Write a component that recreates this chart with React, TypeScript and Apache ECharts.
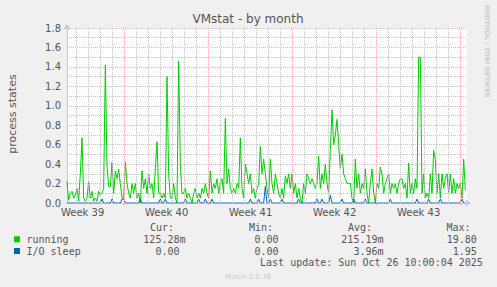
import React, { useEffect, useRef } from 'react';
import * as echarts from 'echarts';

// samples every ~3h20m (one sample = 10/3 h), 240 samples across the month graph
const RUNNING = [
  0.22, 0.03, 0.10, 0.12, 0.05, 0.08, 0.15, 0.02, 0.30, 0.67,
  0.05, 0.02, 0.05, 0.22, 0.05, 0.12, 0.02, 0.05, 0.02, 0.12,
  0.08, 0.10, 0.15, 1.42, 0.38, 0.17, 0.17, 0.42, 0.10, 0.33,
  0.25, 0.35, 0.20, 0.05, 0.05, 0.42, 0.20, 0.10, 0.05, 0.20,
  0.10, 0.20, 0.05, 0.10, 0.00, 0.33, 0.15, 0.25, 0.10, 0.30,
  0.15, 0.20, 0.05, 0.35, 0.63, 0.10, 0.10, 0.05, 0.10, 0.05,
  1.30, 0.30, 0.05, 0.05, 0.20, 0.05, 0.00, 1.46, 0.40, 0.10,
  0.10, 0.15, 0.05, 0.10, 0.05, 0.00, 0.10, 0.15, 0.05, 0.10,
  0.05, 0.15, 0.10, 0.20, 0.10, 0.05, 0.33, 0.10, 0.20, 0.15,
  0.25, 0.10, 0.20, 0.25, 0.10, 0.87, 0.20, 0.35, 0.15, 0.10,
  0.15, 0.10, 0.20, 0.15, 0.67, 0.15, 0.05, 0.40, 0.30, 0.20,
  0.30, 0.10, 0.15, 0.05, 0.15, 0.20, 0.58, 0.30, 0.45, 0.30,
  0.15, 0.05, 0.45, 0.20, 0.10, 0.30, 0.20, 0.10, 0.05, 0.15,
  0.05, 0.28, 0.20, 0.30, 0.15, 0.30, 0.10, 0.20, 0.05, 0.15,
  0.05, 0.00, 0.20, 0.10, 0.30, 0.25, 0.20, 0.25, 0.20, 0.15,
  0.20, 0.48, 0.15, 0.30, 0.20, 0.40, 0.20, 0.10, 0.55, 0.96,
  0.60, 0.70, 0.86, 0.60, 0.35, 0.50, 0.30, 0.25, 0.20, 0.20,
  0.20, 0.05, 0.00, 0.45, 0.15, 0.30, 0.10, 0.20, 0.15, 0.35,
  0.10, 0.00, 0.20, 0.35, 0.10, 0.00, 0.20, 0.15, 0.37, 0.30,
  0.10, 0.20, 0.25, 0.30, 0.10, 0.20, 0.15, 0.20, 0.10, 0.20,
  0.25, 0.25, 0.15, 0.20, 0.05, 0.41, 0.10, 0.20, 0.10, 0.25,
  0.15, 1.50, 1.50, 0.10, 0.30, 0.05, 0.10, 0.05, 0.30, 0.10,
  0.54, 0.45, 0.10, 0.30, 0.05, 0.30, 0.15, 0.25, 0.30, 0.10,
  0.30, 0.10, 0.25, 0.10, 0.20, 0.15, 0.20, 0.05, 0.45, 0.13,
];

const IO_SLEEP = [
  0, 0, 0, 0, 0, 0, 0, 0, 0, 0, 0, 0, 0, 0, 0, 0, 0, 0, 0, 0,
  0, 0.04, 0, 0, 0, 0, 0, 0.04, 0, 0, 0, 0, 0, 0.04, 0.04, 0, 0, 0, 0, 0,
  0, 0, 0, 0, 0.04, 0, 0, 0, 0, 0, 0, 0, 0, 0, 0, 0, 0.04, 0, 0, 0.04,
  0, 0, 0, 0, 0, 0, 0, 0, 0, 0, 0, 0.04, 0, 0, 0, 0, 0, 0, 0, 0.04,
  0, 0, 0, 0.04, 0, 0, 0, 0.04, 0, 0, 0, 0, 0, 0, 0, 0, 0, 0, 0, 0,
  0, 0, 0, 0, 0, 0, 0, 0, 0, 0, 0.04, 0, 0, 0, 0, 0.04, 0, 0, 0, 0.17,
  0, 0, 0.04, 0, 0, 0, 0, 0, 0, 0.04, 0, 0, 0, 0, 0, 0, 0, 0, 0, 0.04,
  0, 0, 0, 0, 0, 0, 0, 0, 0, 0, 0.04, 0, 0, 0.04, 0, 0, 0, 0, 0.08, 0,
  0, 0, 0, 0, 0, 0.04, 0, 0, 0, 0, 0, 0, 0.04, 0, 0, 0, 0, 0, 0, 0.04,
  0, 0, 0, 0, 0, 0, 0, 0, 0, 0, 0, 0, 0, 0, 0.04, 0, 0, 0, 0, 0,
  0, 0, 0, 0, 0, 0, 0, 0, 0, 0, 0.04, 0, 0, 0, 0, 0, 0, 0.04, 0, 0,
  0, 0, 0, 0, 0.04, 0, 0, 0, 0, 0, 0, 0, 0, 0, 0, 0, 0, 0.04, 0, 0,
];

// axis values (in sample units)
const X_MAX = 240;
const DAY_LINES = [
  5.8, 13, 20.2, 27.4, 41.8, 49, 56.2, 63.4, 70.6, 77.8, 92.2, 99.4, 106.6, 113.8,
  121, 128.2, 142.6, 149.8, 157, 164.2, 171.4, 178.6, 193, 200.2, 207.4, 214.6,
  221.8, 229,
];
const WEEK_LINES = [34.6, 85, 135.4, 185.8, 236.2];
const WEEK_CENTERS = [9.4, 59.8, 110.2, 160.6, 211];
const WEEK_LABELS = ['Week 39', 'Week 40', 'Week 41', 'Week 42', 'Week 43'];

const LEGEND_HEADERS = ['Cur:', 'Min:', 'Avg:', 'Max:'];
const RUNNING_STATS = ['125.28m', '0.00\u00a0', '215.19m', '19.80\u00a0'];
const IO_STATS = ['0.00\u00a0', '0.00\u00a0', '3.96m', '1.95\u00a0'];
const SERIES_NAMES = ['running', 'I/O sleep'];
const SERIES_COLORS = ['#00CC00', '#0066B3'];
const LAST_UPDATE = 'Last update: Sun Oct 26 10:00:04 2025';

const SANS = '"DejaVu Sans", sans-serif';
const MONO = '"DejaVu Sans Mono", monospace';
const GRID_GRAY = '#c8c8c8';
const GRID_RED = '#f2b2b2';
const DASH = [1, 1];

function txt(text: string, x: number, y: number, font: string, fill: string, align: string, rotation = 0) {
  return {
    type: 'text',
    silent: true,
    x, y, rotation,
    style: {
      text, x: 0, y: 0, font, fill,
      textAlign: align, align,
      textVerticalAlign: 'middle', verticalAlign: 'middle',
    },
  };
}

export default function App() {
  const ref = useRef<HTMLDivElement>(null);

  useEffect(() => {
    document.body.style.margin = '0';
    const chart = echarts.init(ref.current!, null, { renderer: 'svg' });

    const headerX = [150, 249, 348, 446.5];
    const colEnd = [185.5, 284.5, 383.5, 482.8];

    const graphics: any[] = [
      txt('VMstat - by month', 248, 19, `12px ${SANS}`, '#555555', 'center'),
      txt('process states', 12, 114, `11px ${SANS}`, '#555555', 'center', Math.PI / 2),
      txt('RRDTOOL / TOBI OETIKER', 487, 5, `bold 6.5px ${SANS}`, '#cccccc', 'left', -Math.PI / 2),
      txt('Munin 2.0.76', 248, 276.5, `7px ${SANS}`, '#c8c8c8', 'center'),
      txt(LAST_UPDATE, colEnd[3], 262.7, `10px ${MONO}`, '#555555', 'right'),
    ];

    LEGEND_HEADERS.forEach((h, i) => graphics.push(txt(h, headerX[i], 227.3, `10px ${MONO}`, '#555555', 'left')));
    [RUNNING_STATS, IO_STATS].forEach((row, r) => {
      const y = 239.3 + r * 11.7;
      graphics.push({ type: 'rect', silent: true, shape: { x: 14, y: y - 3, width: 6, height: 6 }, style: { fill: SERIES_COLORS[r] } });
      graphics.push(txt(SERIES_NAMES[r], 26.5, y, `10px ${MONO}`, '#555555', 'left'));
      row.forEach((v, i) => graphics.push(txt(v, colEnd[i], y, `10px ${MONO}`, '#555555', 'right')));
    });

    const option: any = {
      animation: false,
      backgroundColor: '#F0F0F0',
      textStyle: { fontFamily: SANS },
      grid: {
        left: 67, top: 28, width: 400, height: 175,
        show: true, backgroundColor: '#FFFFFF', borderWidth: 0,
        containLabel: false, outerBoundsMode: 'none',
      },
      xAxis: {
        type: 'value', min: 0, max: X_MAX,
        axisLine: {
          show: true, onZero: false,
          lineStyle: { color: '#c4c4ec', width: 1 },
          symbol: ['none', 'arrow'], symbolSize: [6, 6], symbolOffset: [0, 4],
        },
        axisTick: {
          show: true, customValues: WEEK_LINES, length: 2,
          lineStyle: { color: GRID_RED, width: 1 },
        },
        axisLabel: {
          customValues: WEEK_CENTERS,
          formatter: (v: number) => {
            const idx = WEEK_CENTERS.findIndex((c) => Math.abs(c - v) < 0.01);
            return idx >= 0 ? WEEK_LABELS[idx] : '';
          },
          color: '#555555', fontSize: 10, fontFamily: SANS, margin: 4,
        },
        splitLine: { show: false },
      },
      yAxis: {
        type: 'value', min: 0, max: 1.8, interval: 0.2,
        axisLine: {
          show: true, onZero: false,
          lineStyle: { color: '#c4c4ec', width: 1 },
          symbol: ['none', 'arrow'], symbolSize: [6, 6], symbolOffset: [0, 4],
        },
        axisTick: { show: false },
        axisLabel: {
          formatter: (v: number) => v.toFixed(1),
          color: '#555555', fontSize: 10, fontFamily: SANS, margin: 6,
        },
        splitLine: { show: true, lineStyle: { color: GRID_RED, type: DASH, width: 1 } },
        minorTick: { show: false, splitNumber: 2 },
        minorSplitLine: { show: true, lineStyle: { color: GRID_GRAY, type: DASH, width: 1 } },
      },
      series: [
        {
          type: 'line', data: [], silent: true, z: 1,
          markLine: {
            silent: true, symbol: ['none', 'none'], label: { show: false },
            lineStyle: { color: GRID_GRAY, type: DASH, width: 1 },
            emphasis: { disabled: true },
            data: DAY_LINES.map((v) => ({ xAxis: v })),
          },
        },
        {
          type: 'line', data: [], silent: true, z: 1,
          markLine: {
            silent: true, symbol: ['none', 'none'], label: { show: false },
            lineStyle: { color: GRID_RED, type: DASH, width: 1 },
            emphasis: { disabled: true },
            data: WEEK_LINES.map((v) => ({ xAxis: v })),
          },
        },
        {
          name: SERIES_NAMES[0], type: 'line', z: 3,
          data: RUNNING.map((v, i) => [i, v]),
          showSymbol: false, symbol: 'none',
          lineStyle: { color: SERIES_COLORS[0], width: 1 },
        },
        {
          name: SERIES_NAMES[1], type: 'line', z: 4,
          data: IO_SLEEP.map((v, i) => [i, v]),
          showSymbol: false, symbol: 'none',
          lineStyle: { color: SERIES_COLORS[1], width: 1 },
        },
      ],
      graphic: graphics,
    };

    chart.setOption(option);
    return () => chart.dispose();
  }, []);

  return <div ref={ref} style={{ position: 'absolute', left: 0, top: 0, width: 497, height: 287 }} />;
}
